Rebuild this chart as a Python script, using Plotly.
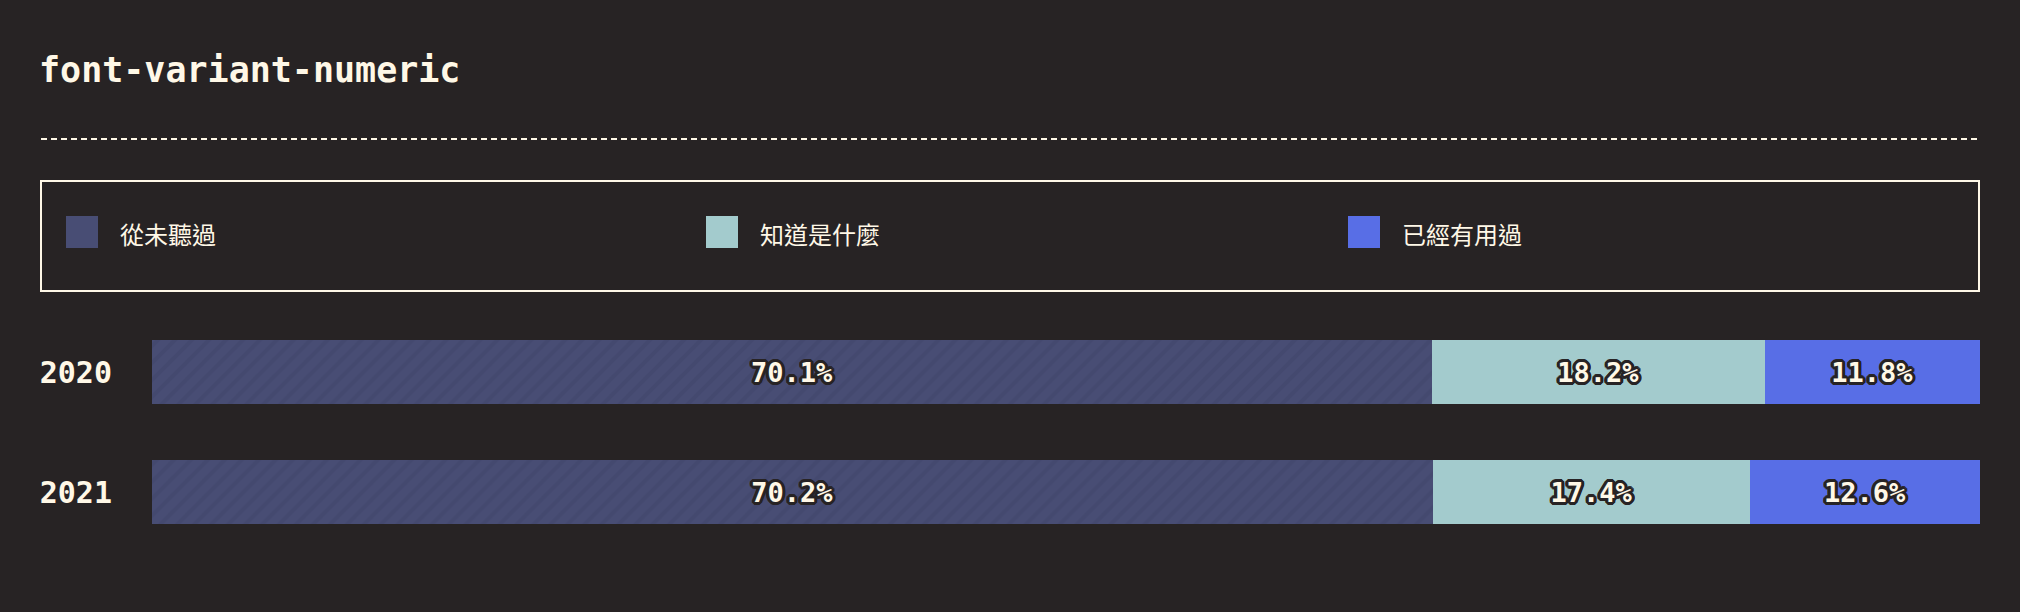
import plotly.graph_objects as go

# ---- data ----
years = ["2020", "2021"]
series_names = ["從未聽過", "知道是什麼", "已經有用過"]
never_heard = [70.1, 70.2]
know_what = [18.2, 17.4]
have_used = [11.8, 12.6]
series_values = [never_heard, know_what, have_used]
chart_title = "font-variant-numeric"

# ---- style ----
W, H = 2020, 612
BG = "#272324"
CREAM = "#fff8e7"
colors = ["#484d74", "#a3cbcd", "#586ee6"]
MONO = "DejaVu Sans Mono"
CJK = "Noto Sans CJK TC"

def px(x):
    return x / W

def py(y):
    return 1 - y / H

# bars fill the full width: each row is scaled by its own total
totals = [sum(vals[j] for vals in series_values) for j in range(len(years))]

fig = go.Figure()

outline = ", ".join(
    f"{dx}px {dy}px 0 {BG}"
    for dx, dy in [(2, 0), (-2, 0), (0, 2), (0, -2), (2, 2), (-2, -2), (2, -2), (-2, 2),
                   (3, 0), (-3, 0), (0, 3), (0, -3), (3, 1), (-3, 1), (3, -1), (-3, -1),
                   (1, 3), (-1, 3), (1, -3), (-1, -3)]
)

for i, (name, vals) in enumerate(zip(series_names, series_values)):
    marker = dict(color=colors[i], line=dict(width=0))
    if i == 0:
        marker["pattern"] = dict(shape="/", fgcolor="#40456a", size=12, solidity=0.35)
    shares = [v / t * 100 for v, t in zip(vals, totals)]
    fig.add_trace(go.Bar(
        y=years, x=shares, name=name, orientation="h",
        customdata=vals,
        marker=marker,
        texttemplate="%{customdata:.1f}%",
        textposition="inside",
        insidetextanchor="middle",
        constraintext="none",
        textfont=dict(family=MONO, size=27, color=CREAM, weight="bold", shadow=outline),
        showlegend=False,
        hoverinfo="skip",
    ))

# bar area: x 152..1980 px, categories centered at 372 / 492 px
fig.update_layout(
    width=W, height=H,
    paper_bgcolor=BG, plot_bgcolor=BG,
    margin=dict(l=0, r=0, t=0, b=0),
    barmode="stack",
    bargap=1 - 64 / 120,
    xaxis=dict(domain=[px(152), px(1980)], range=[0, 100], visible=False, fixedrange=True),
    yaxis=dict(domain=[py(552), py(312)], categoryorder="array", categoryarray=years,
               autorange="reversed", showgrid=False, zeroline=False, showline=False,
               ticks="", ticklabelstandoff=39, fixedrange=True,
               tickfont=dict(family=MONO, size=30, color=CREAM, weight="bold")),
    showlegend=False,
)

# title
fig.add_annotation(x=px(37), y=py(70), xref="paper", yref="paper", xanchor="left",
                   yanchor="middle", showarrow=False, text=chart_title,
                   font=dict(family=MONO, size=35, color=CREAM, weight="bold"))

# dashed separator
fig.add_shape(type="line", xref="paper", yref="paper", x0=px(41), x1=px(1980),
              y0=py(139), y1=py(139), line=dict(color=CREAM, width=2, dash="6px,4px"))

# legend box
fig.add_shape(type="rect", xref="paper", yref="paper", x0=px(41), x1=px(1979),
              y0=py(291), y1=py(181), line=dict(color=CREAM, width=2), fillcolor=BG)

legend_x = [66, 706, 1348]
for i, name in enumerate(series_names):
    x0 = legend_x[i]
    fig.add_shape(type="rect", xref="paper", yref="paper", x0=px(x0), x1=px(x0 + 32),
                  y0=py(248), y1=py(216), line=dict(width=0), fillcolor=colors[i])
    fig.add_annotation(x=px(x0 + 52), y=py(234), xref="paper", yref="paper",
                       xanchor="left", yanchor="middle", showarrow=False, text=name,
                       font=dict(family=CJK, size=24, color=CREAM))

fig.write_html(
    "out.html",
    config={"displayModeBar": False},
    post_script="document.body.style.margin='0';document.body.style.background='#272324';",
)
